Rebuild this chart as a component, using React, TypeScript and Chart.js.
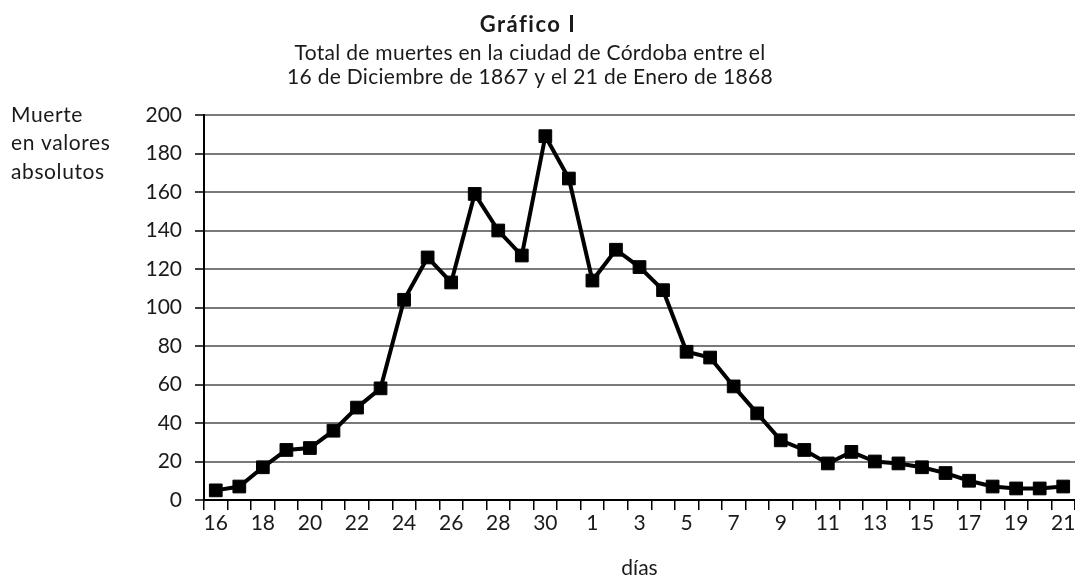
import React, { useEffect, useRef } from "react";
import { Chart, registerables } from "chart.js";

Chart.register(...registerables);

const days: string[] = [
  "16", "17", "18", "19", "20", "21", "22", "23", "24", "25", "26", "27", "28", "29", "30", "31",
  "1", "2", "3", "4", "5", "6", "7", "8", "9", "10", "11", "12", "13", "14", "15", "16", "17", "18", "19", "20", "21",
];

const deaths: number[] = [
  5, 7, 17, 26, 27, 36, 48, 58, 104, 126, 113, 159, 140, 127, 189, 167,
  114, 130, 121, 109, 77, 74, 59, 45, 31, 26, 19, 25, 20, 19, 17, 14, 10, 7, 6, 6, 7,
];

const titleText = "Gráfico I";
const subtitleLines: string[] = [
  "Total de muertes en la ciudad de Córdoba entre el",
  "16 de Diciembre de 1867 y el 21 de Enero de 1868",
];
const yTitleLines: string[] = ["Muerte", "en valores", "absolutos"];
const xTitle = "días";

const FONT = "Lato, 'Open Sans', sans-serif";

const textPlugin = {
  id: "textPlugin",
  afterDraw(chart: any) {
    const ctx = chart.ctx as any;
    ctx.save();
    ctx.fillStyle = "#1a1a1a";
    ctx.textBaseline = "alphabetic";
    ctx.textAlign = "center";
    ctx.font = `bold 22px ${FONT}`;
    ctx.letterSpacing = "1.5px";
    ctx.fillText(titleText, 528, 32);
    ctx.letterSpacing = "0.3px";
    ctx.font = `21px ${FONT}`;
    ctx.fillText(subtitleLines[0], 530, 60);
    ctx.fillText(subtitleLines[1], 530, 84);
    ctx.textAlign = "left";
    ctx.letterSpacing = "0.6px";
    ctx.font = `21px ${FONT}`;
    const bases = [122, 150, 179];
    yTitleLines.forEach((l, i) => ctx.fillText(l, 11, bases[i]));
    ctx.restore();
  },
};

export default function App() {
  const ref = useRef<HTMLCanvasElement | null>(null);
  useEffect(() => {
    if (!ref.current) return;
    const chart = new Chart(ref.current, {
      type: "line",
      data: {
        labels: days,
        datasets: [
          {
            data: deaths,
            borderColor: "#000",
            backgroundColor: "#000",
            borderWidth: 4,
            tension: 0,
            pointStyle: "rect",
            pointRadius: 9,
            pointBorderWidth: 1,
            pointBackgroundColor: "#000",
            pointBorderColor: "#000",
          },
        ],
      },
      plugins: [textPlugin],
      options: {
        responsive: false,
        animation: false,
        layout: { padding: { left: 0, right: 5, top: 115, bottom: 0 } },
        plugins: {
          legend: { display: false },
          tooltip: { enabled: false },
          title: { display: false },
        },
        scales: {
          x: {
            offset: true,
            afterFit: (s: any) => {
              s.height = 81;
            },
            grid: {
              offset: true,
              drawOnChartArea: false,
              drawTicks: true,
              tickLength: 10,
              color: "#000",
              lineWidth: 1.5,
            },
            border: { color: "#000", width: 2 },
            ticks: {
              autoSkip: false,
              maxRotation: 0,
              padding: 1,
              color: "#1a1a1a",
              font: { family: FONT, size: 21 },
              callback: (_v: any, i: number) => (i % 2 === 0 ? days[i] : ""),
            },
            title: {
              display: true,
              text: xTitle,
              color: "#1a1a1a",
              font: { family: FONT, size: 21 },
              padding: { top: 0, bottom: 0 },
            },
          },
          y: {
            min: 0,
            max: 200,
            afterFit: (s: any) => {
              s.width = 204;
            },
            grid: {
              color: "#7a7a7a",
              lineWidth: 2,
              tickLength: 9,
              tickColor: "#000",
              tickWidth: 1.5,
            },
            border: { color: "#000", width: 2 },
            ticks: {
              stepSize: 20,
              padding: 13,
              color: "#1a1a1a",
              font: { family: FONT, size: 21 },
            },
          },
        },
      },
    });
    return () => chart.destroy();
  }, []);
  return (
    <div
      style={{
        position: "fixed",
        left: 0,
        top: 0,
        width: 1075,
        height: 581,
        overflow: "hidden",
        background: "#fff",
      }}
    >
      <canvas ref={ref} width={1085} height={581} style={{ width: 1085, height: 581, display: "block" }} />
    </div>
  );
}
